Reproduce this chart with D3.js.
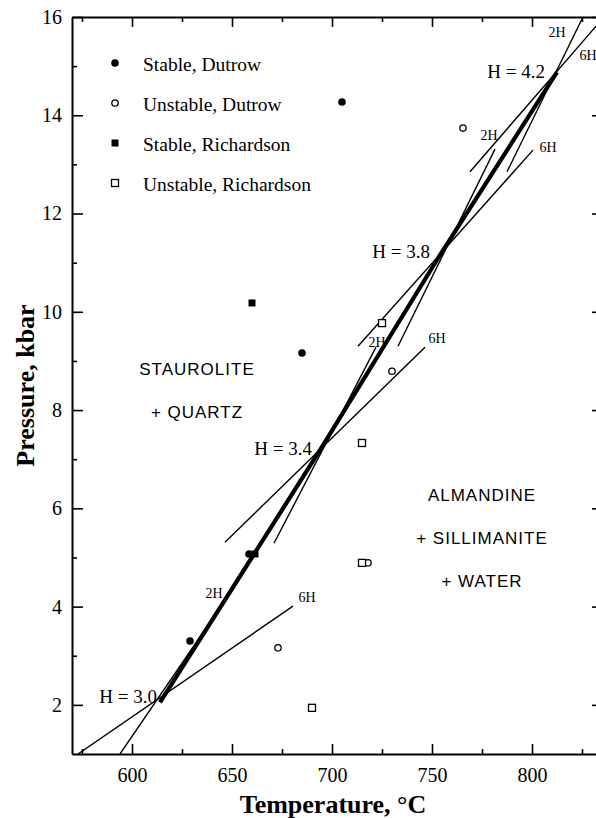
<!DOCTYPE html>
<html>
<head>
<meta charset="utf-8">
<script src="https://cdn.jsdelivr.net/npm/d3@7"></script>
<style>
  body { margin: 0; background: #fff; }
  svg { display: block; }
</style>
</head>
<body>
<svg class="pt-chart"></svg>
<script>
// experiment results, [temperature (C), pressure (kbar)]
var stableDutrow = [[705, 14.27], [685, 9.16], [658.5, 5.07], [629, 3.30]];
var unstableDutrow = [[765.5, 13.74], [730, 8.79], [718, 4.89], [673, 3.16]];
var stableRichardson = [[660, 10.18], [661.5, 5.07]];
var unstableRichardson = [[725, 9.77], [715, 7.33], [715, 4.89], [690, 1.94]];

// H content at each node of the reaction curve
var hValues = ["3.0", "3.4", "3.8", "4.2"];
var hNodes = [[614, 2.05], [695, 7.25], [753, 11.09], [812.5, 14.88]];

// thin 2H / 6H lines through each node, [lower end, upper end]
var lines2H = [[[594, 1.0], [645.5, 4.07]], [[671, 5.29], [722, 9.28]], [[733, 9.30], [781.5, 13.31]], [[787.5, 12.85], [825.5, 16.0]]];
var lines6H = [[[573, 1.0], [680.5, 4.01]], [[646.5, 5.31], [746.5, 9.28]], [[713, 9.30], [800.5, 13.29]], [[769, 12.85], [836, 16.0]]];
var tags2H = [[641, 4.27], [722.5, 9.38], [778.5, 13.6], [812.5, 15.7]];
var tags6H = [[687.5, 4.19], [752.5, 9.47], [808, 13.35], [828, 15.23]];

// field names
var fieldLeft = ["STAUROLITE", "+ QUARTZ"];
var fieldRight = ["ALMANDINE", "+ SILLIMANITE", "+ WATER"];

var xTicks = [600, 650, 700, 750, 800];
var xMinor = [575, 625, 675, 725, 775, 825];
var yTicks = [2, 4, 6, 8, 10, 12, 14, 16];
var yMinor = [3, 5, 7, 9, 11, 13, 15];

var legendNames = ["Stable, Dutrow", "Unstable, Dutrow", "Stable, Richardson", "Unstable, Richardson"];

var svgWidth = 596, svgHeight = 818;
var margin = { top: 17, right: -6, bottom: 64, left: 72 };
var width = svgWidth - margin.left - margin.right;
var height = svgHeight - margin.top - margin.bottom;

var serif = "'Liberation Serif', 'Times New Roman', serif";
var sans = "'Liberation Sans', Arial, sans-serif";

var svg = d3.select('svg.pt-chart')
    .attr("width", svgWidth)
    .attr("height", svgHeight);

var g = svg.append("g")
    .attr("transform", "translate(" + margin.left + "," + margin.top + ")");

var x = d3.scaleLinear().domain([570, 835]).range([0, width]);
var y = d3.scaleLinear().domain([1, 16]).range([height, 0]);

g.append("clipPath").attr("id", "plot-clip")
    .append("rect").attr("width", width).attr("height", height);

var plot = g.append("g").attr("clip-path", "url(#plot-clip)");

var line = d3.line()
    .x(function(d) { return x(d[0]); })
    .y(function(d) { return y(d[1]); });

// thin lines
plot.selectAll("path.thin")
    .data(lines2H.concat(lines6H))
    .enter().append("path")
    .attr("class", "thin")
    .attr("d", line)
    .attr("fill", "none")
    .attr("stroke", "#000")
    .attr("stroke-width", 1.4);

// reaction curve
plot.append("path")
    .datum(hNodes)
    .attr("d", line)
    .attr("fill", "none")
    .attr("stroke", "#000")
    .attr("stroke-width", 4.2)
    .attr("stroke-linejoin", "round");

// 2H / 6H tags
function tag(list, txt) {
    g.selectAll(null)
        .data(list)
        .enter().append("text")
        .attr("x", function(d) { return x(d[0]); })
        .attr("y", function(d) { return y(d[1]); })
        .attr("dy", "0.35em")
        .attr("text-anchor", "middle")
        .style("font-family", serif)
        .style("font-size", "14px")
        .text(txt);
}
tag(tags2H, "2H");
tag(tags6H, "6H");

// H = labels, offset from node
var hOffsets = [[-3, 1], [-10, 8], [-8, 0], [-12, 6]];
g.selectAll("text.hlab")
    .data(hNodes)
    .enter().append("text")
    .attr("class", "hlab")
    .attr("x", function(d, i) { return x(d[0]) + hOffsets[i][0]; })
    .attr("y", function(d, i) { return y(d[1]) + hOffsets[i][1]; })
    .attr("text-anchor", "end")
    .style("font-family", serif)
    .style("font-size", "19px")
    .text(function(d, i) { return "H = " + hValues[i]; });

// points
function circles(data, filled) {
    plot.selectAll(null)
        .data(data)
        .enter().append("circle")
        .attr("cx", function(d) { return x(d[0]); })
        .attr("cy", function(d) { return y(d[1]); })
        .attr("r", filled ? 3.8 : 3.2)
        .attr("fill", filled ? "#000" : "#fff")
        .attr("stroke", "#000")
        .attr("stroke-width", filled ? 0 : 1.3);
}
function squares(data, filled) {
    plot.selectAll(null)
        .data(data)
        .enter().append("rect")
        .attr("x", function(d) { return x(d[0]) - 3.5; })
        .attr("y", function(d) { return y(d[1]) - 3.5; })
        .attr("width", 7)
        .attr("height", 7)
        .attr("fill", filled ? "#000" : "#fff")
        .attr("stroke", "#000")
        .attr("stroke-width", filled ? 0 : 1.3);
}
circles(stableDutrow, true);
circles(unstableDutrow, false);
squares(stableRichardson, true);
squares(unstableRichardson, false);

// field labels
g.selectAll(null)
    .data(fieldLeft)
    .enter().append("text")
    .attr("x", x(632.5))
    .attr("y", function(d, i) { return y(8.71) + i * 43; })
    .attr("text-anchor", "middle")
    .style("font-family", sans)
    .style("font-size", "17px")
    .style("letter-spacing", "1px")
    .text(function(d) { return d; });

g.selectAll(null)
    .data(fieldRight)
    .enter().append("text")
    .attr("x", x(775))
    .attr("y", function(d, i) { return y(4.40) + (i - 2) * 43; })
    .attr("text-anchor", "middle")
    .style("font-family", sans)
    .style("font-size", "17px")
    .style("letter-spacing", "1px")
    .text(function(d) { return d; });

// legend
var legend = g.append("g").attr("transform", "translate(" + (115 - margin.left) + "," + (63 - margin.top) + ")");
legendNames.forEach(function(name, i) {
    var row = legend.append("g").attr("transform", "translate(0," + (i * 40) + ")");
    if (i < 2) {
        row.append("circle").attr("r", i == 0 ? 3.8 : 3.2)
            .attr("fill", i == 0 ? "#000" : "#fff")
            .attr("stroke", "#000").attr("stroke-width", i == 0 ? 0 : 1.3);
    } else {
        row.append("rect").attr("x", -3.5).attr("y", -3.5).attr("width", 7).attr("height", 7)
            .attr("fill", i == 2 ? "#000" : "#fff")
            .attr("stroke", "#000").attr("stroke-width", i == 2 ? 0 : 1.3);
    }
    row.append("text")
        .attr("x", 28)
        .attr("y", 8)
        .style("font-family", serif)
        .style("font-size", "19.5px")
        .text(name);
});

// axes: ticks point inwards on all four sides
function tickAxis(axis, major, minor) {
    return axis.tickValues(major.concat(minor))
        .tickSizeInner(-10)
        .tickSizeOuter(0)
        .tickPadding(14);
}

var xb = g.append("g")
    .attr("transform", "translate(0," + height + ")")
    .call(tickAxis(d3.axisBottom(x), xTicks, xMinor).tickFormat(function(d) { return xTicks.indexOf(d) >= 0 ? d : ""; }));
var xt = g.append("g")
    .call(tickAxis(d3.axisTop(x), xTicks, xMinor).tickFormat(""));
var yl = g.append("g")
    .call(tickAxis(d3.axisLeft(y), yTicks, yMinor).tickPadding(10).tickFormat(function(d) { return yTicks.indexOf(d) >= 0 ? d : ""; }));
var yr = g.append("g")
    .attr("transform", "translate(" + width + ",0)")
    .call(tickAxis(d3.axisRight(y), yTicks, yMinor).tickFormat(""));

[xb, xt, yl, yr].forEach(function(a) {
    a.select(".domain").attr("stroke-width", 2);
    a.selectAll(".tick line").attr("stroke-width", 1.6);
    a.selectAll(".tick text")
        .style("font-family", serif)
        .style("font-size", "20px")
        .attr("fill", "#000");
});
// minor ticks are half length
[xb, xt, yl, yr].forEach(function(a, k) {
    a.selectAll(".tick").filter(function(d) { return xMinor.indexOf(d) >= 0 && k < 2 || yMinor.indexOf(d) >= 0 && k >= 2; })
        .select("line")
        .attr(k < 2 ? "y2" : "x2", function() { return +d3.select(this).attr(k < 2 ? "y2" : "x2") / 2; });
});
yl.selectAll(".tick line").filter(function(d) { return yTicks.indexOf(d) >= 0; }).attr("x2", 11);

// axis titles
svg.append("text")
    .attr("x", 333)
    .attr("y", 813)
    .attr("text-anchor", "middle")
    .style("font-family", serif)
    .style("font-weight", "bold")
    .style("font-size", "26px")
    .text("Temperature, \u00B0C");

svg.append("text")
    .attr("transform", "translate(34," + (margin.top + height / 2) + ") rotate(-90)")
    .attr("text-anchor", "middle")
    .style("font-family", serif)
    .style("font-weight", "bold")
    .style("font-size", "26px")
    .text("Pressure, kbar");
</script>
</body>
</html>
